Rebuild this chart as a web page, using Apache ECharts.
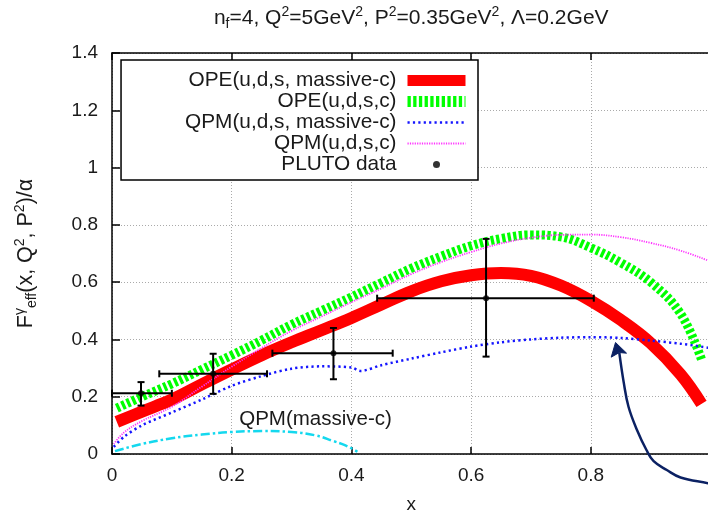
<!DOCTYPE html>
<html><head><meta charset="utf-8">
<script src="https://cdn.jsdelivr.net/npm/echarts@6/dist/echarts.min.js"></script>
<style>html,body{margin:0;padding:0;background:#fff}#c{width:708px;height:513px}</style>
</head><body><div id="c"></div>
<script>
// ---------- data ----------
const xTickLabels = ['0', '0.2', '0.4', '0.6', '0.8', '1'];
const yTickLabels = ['0', '0.2', '0.4', '0.6', '0.8', '1', '1.2', '1.4'];

const opeMassiveX = [0.008, 0.05, 0.1, 0.15, 0.2, 0.25, 0.3, 0.35, 0.4, 0.45, 0.5, 0.55, 0.6, 0.65, 0.7, 0.75, 0.8, 0.85, 0.9, 0.95, 0.985];
const opeMassiveY = [0.112, 0.148, 0.19, 0.243, 0.295, 0.345, 0.39, 0.432, 0.475, 0.522, 0.568, 0.603, 0.624, 0.632, 0.622, 0.588, 0.535, 0.468, 0.387, 0.278, 0.175];

const opeX = [0.008, 0.05, 0.1, 0.15, 0.2, 0.25, 0.3, 0.35, 0.4, 0.45, 0.5, 0.55, 0.6, 0.65, 0.7, 0.75, 0.8, 0.85, 0.9, 0.95, 0.985];
const opeY = [0.16, 0.2, 0.245, 0.295, 0.345, 0.397, 0.452, 0.5, 0.548, 0.598, 0.648, 0.69, 0.727, 0.752, 0.765, 0.758, 0.72, 0.668, 0.6, 0.49, 0.33];

const qpmMassiveX = [0.003, 0.02, 0.05, 0.1, 0.15, 0.2, 0.25, 0.3, 0.35, 0.4, 0.415, 0.45, 0.5, 0.55, 0.6, 0.65, 0.7, 0.75, 0.8, 0.85, 0.9, 0.95, 1.0];
const qpmMassiveY = [0.025, 0.06, 0.1, 0.145, 0.19, 0.238, 0.272, 0.298, 0.306, 0.302, 0.29, 0.31, 0.333, 0.355, 0.375, 0.39, 0.4, 0.406, 0.408, 0.405, 0.396, 0.385, 0.37];

const qpmX = [0.003, 0.02, 0.05, 0.1, 0.15, 0.2, 0.25, 0.3, 0.35, 0.4, 0.45, 0.5, 0.55, 0.6, 0.65, 0.7, 0.75, 0.8, 0.85, 0.9, 0.95, 1.0];
const qpmY = [0.035, 0.075, 0.115, 0.165, 0.235, 0.305, 0.37, 0.43, 0.48, 0.53, 0.578, 0.628, 0.67, 0.705, 0.735, 0.755, 0.765, 0.766, 0.757, 0.737, 0.71, 0.672];

const qpmCharmX = [0.005, 0.05, 0.1, 0.15, 0.2, 0.25, 0.3, 0.34, 0.37, 0.39, 0.41];
const qpmCharmY = [0.01, 0.035, 0.055, 0.068, 0.077, 0.08, 0.077, 0.065, 0.045, 0.03, 0.008];
const qpmCharmLabel = 'QPM(massive-c)';
const qpmCharmLabelAt = [0.34, 0.12];

// PLUTO data: x, y, xLow, xHigh, yLow, yHigh
const plutoX     = [0.0485, 0.169, 0.37, 0.625];
const plutoY     = [0.212, 0.28, 0.352, 0.544];
const plutoXLow  = [0.0, 0.079, 0.268, 0.443];
const plutoXHigh = [0.1, 0.259, 0.469, 0.805];
const plutoYLow  = [0.169, 0.21, 0.261, 0.34];
const plutoYHigh = [0.251, 0.35, 0.44, 0.751];

// annotation arrow (data coordinates)
const arrowShaftX = [1.03, 0.996, 0.95, 0.927, 0.905, 0.893, 0.877, 0.863, 0.855, 0.8476];
const arrowShaftY = [-0.118, -0.102, -0.082, -0.056, -0.025, 0.014, 0.085, 0.165, 0.25, 0.354];
const arrowHeadX = [0.8413, 0.8341, 0.8476, 0.8597];
const arrowHeadY = [0.3893, 0.3381, 0.3542, 0.3521];

const seriesNames = ['OPE(u,d,s, massive-c)', 'OPE(u,d,s,c)', 'QPM(u,d,s, massive-c)', 'QPM(u,d,s,c)', 'PLUTO data'];

// ---------- chart ----------
const FONT = '"Liberation Sans", Arial, Helvetica, sans-serif';
const TXT = '#1a1a1a';
const pairs = (xs, ys) => xs.map((x, i) => [x, ys[i]]);
const richSS = {
  sup: { fontSize: 14, fontFamily: FONT, color: TXT, verticalAlign: 'top', lineHeight: 13 },
  sub: { fontSize: 14, fontFamily: FONT, color: TXT, verticalAlign: 'bottom', lineHeight: 13 }
};

const chart = echarts.init(document.getElementById('c'), null, { renderer: 'canvas' });

const plutoBars = plutoX.map((x, i) => [x, plutoY[i], plutoXLow[i], plutoXHigh[i], plutoYLow[i], plutoYHigh[i]]);
const hideSym = { opacity: 0 };

const option = {
  animation: false,
  backgroundColor: '#fff',
  grid: { left: 112, top: 53, width: 598.5, height: 401, show: false, containLabel: false, outerBoundsMode: 'none' },
  legend: {
    orient: 'vertical',
    align: 'right',
    right: 230,
    top: 60,
    padding: [10, 7, 5, 64],
    backgroundColor: '#fff',
    borderColor: '#000',
    borderWidth: 1.5,
    borderRadius: 0,
    itemWidth: 58,
    itemHeight: 7,
    itemGap: 0,
    textStyle: { fontSize: 20.8, fontFamily: FONT, color: TXT, lineHeight: 20, padding: [0, 6, 0, 0] },
    data: [
      { name: seriesNames[0], itemStyle: hideSym, lineStyle: { width: 11 } },
      { name: seriesNames[1], itemStyle: hideSym, lineStyle: { width: 11 } },
      { name: seriesNames[2], itemStyle: hideSym, lineStyle: { width: 2.5 } },
      { name: seriesNames[3], itemStyle: hideSym, lineStyle: { width: 2 } },
      { name: seriesNames[4] }
    ],
    selectedMode: false
  },
  xAxis: [{
    type: 'value', min: 0, max: 1, interval: 0.2,
    name: 'x', nameLocation: 'middle', nameGap: 41,
    nameTextStyle: { fontSize: 19, fontFamily: FONT, color: TXT },
    axisLine: { show: true, onZero: false, lineStyle: { color: '#000', width: 1.5 } },
    axisTick: { show: true, inside: true, length: 7, lineStyle: { color: '#000', width: 1.5 } },
    axisLabel: { fontSize: 19, fontFamily: FONT, color: TXT, margin: 12, showMaxLabel: false,
      formatter: (v, i) => xTickLabels[i] },
    splitLine: { show: true, lineStyle: { color: '#aaa', type: [1, 2], width: 1 } }
  }, {
    type: 'value', min: 0, max: 1, interval: 0.2, position: 'top',
    name: 'n{sub|f}=4, Q{sup|2}=5GeV{sup|2}, P{sup|2}=0.35GeV{sup|2}, Λ=0.2GeV',
    nameLocation: 'middle', nameGap: 22,
    nameTextStyle: { fontSize: 21, fontFamily: FONT, color: TXT, lineHeight: 26, rich: richSS },
    axisLine: { show: true, onZero: false, lineStyle: { color: '#000', width: 1.5 } },
    axisTick: { show: true, inside: true, length: 7, lineStyle: { color: '#000', width: 1.5 } },
    axisLabel: { show: false },
    splitLine: { show: false }
  }],
  yAxis: {
    type: 'value', min: 0, max: 1.4, interval: 0.2,
    name: 'F{sup|γ}{sub|eff}(x, Q{sup|2}, P{sup|2})/α',
    nameLocation: 'middle', nameRotate: 90, nameGap: 73,
    nameTextStyle: { fontSize: 21.5, fontFamily: FONT, color: TXT, lineHeight: 26, rich: richSS },
    axisLine: { show: true, onZero: false, lineStyle: { color: '#000', width: 1.5 } },
    axisTick: { show: true, inside: true, length: 8, lineStyle: { color: '#000', width: 1.5 } },
    axisLabel: { fontSize: 19, fontFamily: FONT, color: TXT, margin: 14,
      formatter: (v, i) => yTickLabels[i] },
    splitLine: { show: true, lineStyle: { color: '#aaa', type: [1, 2], width: 1 } }
  },
  series: [
    {
      name: seriesNames[1], type: 'line', data: pairs(opeX, opeY), symbol: 'none', smooth: 0.4, z: 2,
      lineStyle: { color: '#00ff00', width: 9, type: [3.3, 2.4] }, itemStyle: { color: '#00ff00' }
    },
    {
      name: seriesNames[0], type: 'line', data: pairs(opeMassiveX, opeMassiveY), symbol: 'none', smooth: 0.4, z: 3,
      lineStyle: { color: '#ff0000', width: 12 }, itemStyle: { color: '#ff0000' }
    },
    {
      name: seriesNames[3], type: 'line', data: pairs(qpmX, qpmY), symbol: 'none', smooth: 0.4, z: 4,
      lineStyle: { color: '#ff33ff', width: 1.8, type: [1.2, 1.2] }, itemStyle: { color: '#ff33ff' }
    },
    {
      name: seriesNames[2], type: 'line', data: pairs(qpmMassiveX, qpmMassiveY), symbol: 'none', smooth: 0.3, z: 4,
      lineStyle: { color: '#1515ff', width: 2.5, type: [2.2, 3.2] }, itemStyle: { color: '#1515ff' }
    },
    {
      name: 'QPM(massive-c)', type: 'line', data: pairs(qpmCharmX, qpmCharmY), symbol: 'none', smooth: 0.4, z: 4,
      lineStyle: { color: '#14d8ee', width: 2.5, type: [9, 3, 2.5, 3] }, itemStyle: { color: '#14d8ee' },
      markPoint: {
        symbol: 'circle', symbolSize: 0, silent: true,
        label: { show: true, position: 'inside', formatter: qpmCharmLabel, fontSize: 20.5, fontFamily: FONT, color: TXT },
        data: [{ coord: qpmCharmLabelAt }]
      }
    },
    {
      name: 'errbars', type: 'custom', z: 6, clip: false,
      data: plutoBars, encode: { x: 0, y: 1 },
      renderItem: function (params, api) {
        const x = api.value(0), y = api.value(1);
        const pL = api.coord([api.value(2), y]), pR = api.coord([api.value(3), y]);
        const pB = api.coord([x, api.value(4)]), pT = api.coord([x, api.value(5)]);
        const st = { stroke: '#000', lineWidth: 2 };
        const c = 3.5;
        const ln = (x1, y1, x2, y2) => ({ type: 'line', shape: { x1, y1, x2, y2 }, style: st });
        return {
          type: 'group', children: [
            ln(pL[0], pL[1], pR[0], pR[1]),
            ln(pB[0], pB[1], pT[0], pT[1]),
            ln(pL[0], pL[1] - c, pL[0], pL[1] + c),
            ln(pR[0], pR[1] - c, pR[0], pR[1] + c),
            ln(pB[0] - c, pB[1], pB[0] + c, pB[1]),
            ln(pT[0] - c, pT[1], pT[0] + c, pT[1])
          ]
        };
      }
    },
    {
      name: seriesNames[4], type: 'scatter', z: 7, data: pairs(plutoX, plutoY),
      symbol: 'circle', symbolSize: 6, itemStyle: { color: '#000' }
    },
    {
      name: 'arrow', type: 'custom', z: 8, clip: false, silent: true,
      data: [[arrowHeadX[0], arrowHeadY[0]]], encode: { x: 0, y: 1 },
      renderItem: function (params, api) {
        const shaft = arrowShaftX.map((x, i) => api.coord([x, arrowShaftY[i]]));
        const head = arrowHeadX.map((x, i) => api.coord([x, arrowHeadY[i]]));
        return {
          type: 'group', children: [
            { type: 'polyline', shape: { points: shaft, smooth: 0.4 }, style: { stroke: '#0b2163', lineWidth: 2.5, fill: null } },
            { type: 'polygon', shape: { points: head }, style: { fill: '#0b2163', stroke: '#0b2163', lineWidth: 1 } }
          ]
        };
      }
    }
  ]
};
chart.setOption(option);
</script>
</body></html>
